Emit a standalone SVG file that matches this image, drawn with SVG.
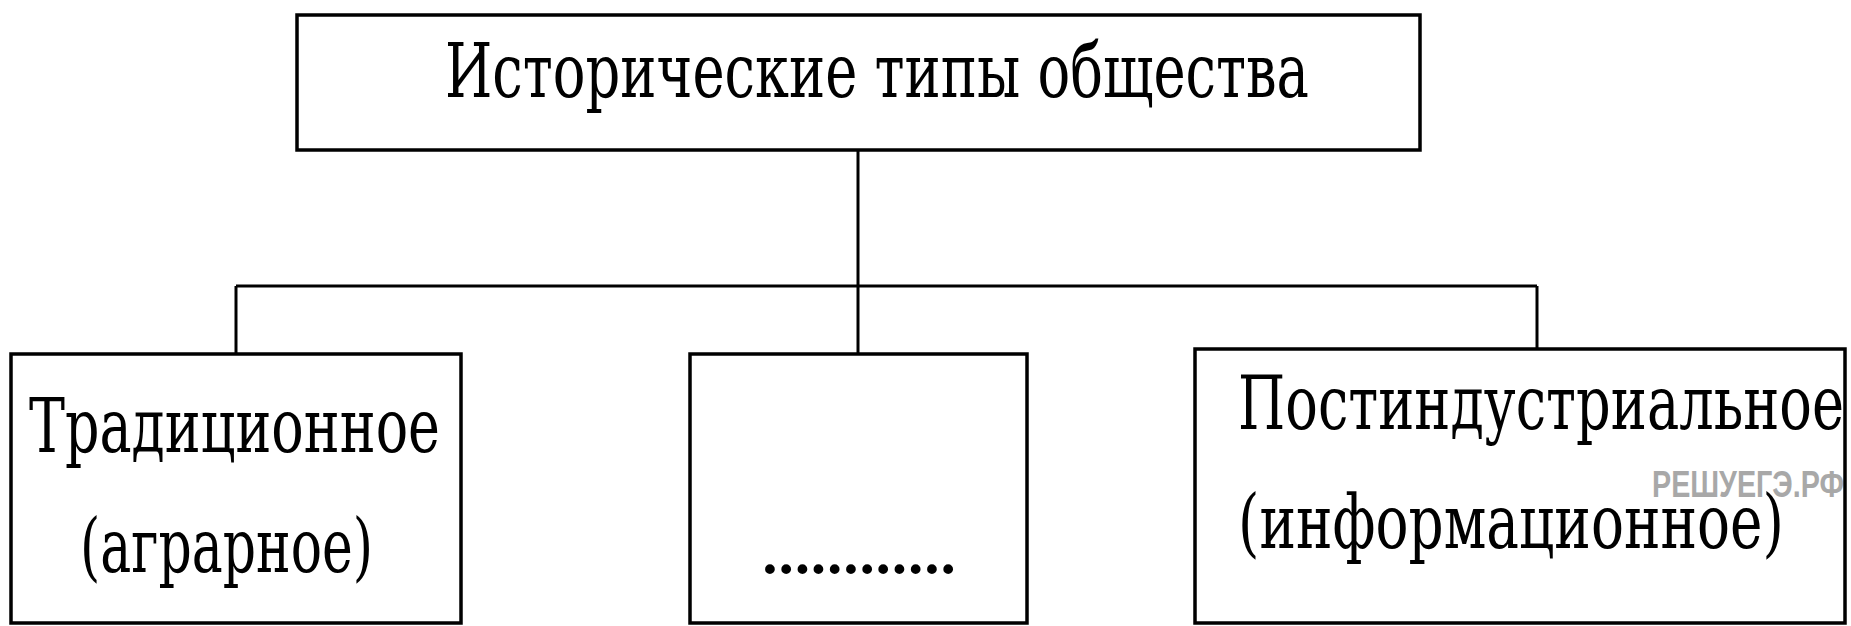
<svg xmlns="http://www.w3.org/2000/svg" width="1851" height="626" viewBox="0 0 1851 626">
<style>
.box{fill:#fff;stroke:#000;stroke-width:3.5}
.ln{fill:none;stroke:#000;stroke-width:3}
.t{font-family:"DejaVu Serif","Liberation Serif",serif;font-size:75px;fill:#000}
.wm{font-family:"Liberation Sans",Arial,sans-serif;font-weight:bold;font-size:36px;fill:#a8a8a8}
</style>
<rect x="0" y="0" width="1851" height="626" fill="#fff"/>
<g id="connectors">
<line class="ln" x1="858" y1="150" x2="858" y2="354"/>
<line class="ln" x1="236" y1="286" x2="1537" y2="286"/>
<line class="ln" x1="236" y1="286" x2="236" y2="354"/>
<line class="ln" x1="1537" y1="286" x2="1537" y2="349"/>
</g>
<g id="root">
<rect class="box" x="297" y="15" width="1123" height="135"/>
<text class="t" x="445" y="97" textLength="864" lengthAdjust="spacingAndGlyphs">Исторические типы общества</text>
</g>
<g id="traditional">
<rect class="box" x="11" y="354" width="450" height="269"/>
<text class="t" x="29" y="452" textLength="411" lengthAdjust="spacingAndGlyphs">Традиционное</text>
<text class="t" x="80" y="572" textLength="293" lengthAdjust="spacingAndGlyphs">(аграрное)</text>
</g>
<g id="middle">
<rect class="box" x="690" y="354" width="337" height="269"/>
<text class="t" x="758" y="573" font-size="44" textLength="202" lengthAdjust="spacing">............</text>
</g>
<g id="postindustrial">
<text class="wm" x="1652" y="497" textLength="192" lengthAdjust="spacingAndGlyphs">РЕШУЕГЭ.РФ</text>
<rect x="1195" y="349" width="650" height="274" fill="none" stroke="#000" stroke-width="3.5"/>
<text class="t" x="1238" y="429" textLength="606" lengthAdjust="spacingAndGlyphs">Постиндустриальное</text>
<text class="t" x="1238" y="548" textLength="546" lengthAdjust="spacingAndGlyphs">(информационное)</text>
</g>
</svg>
